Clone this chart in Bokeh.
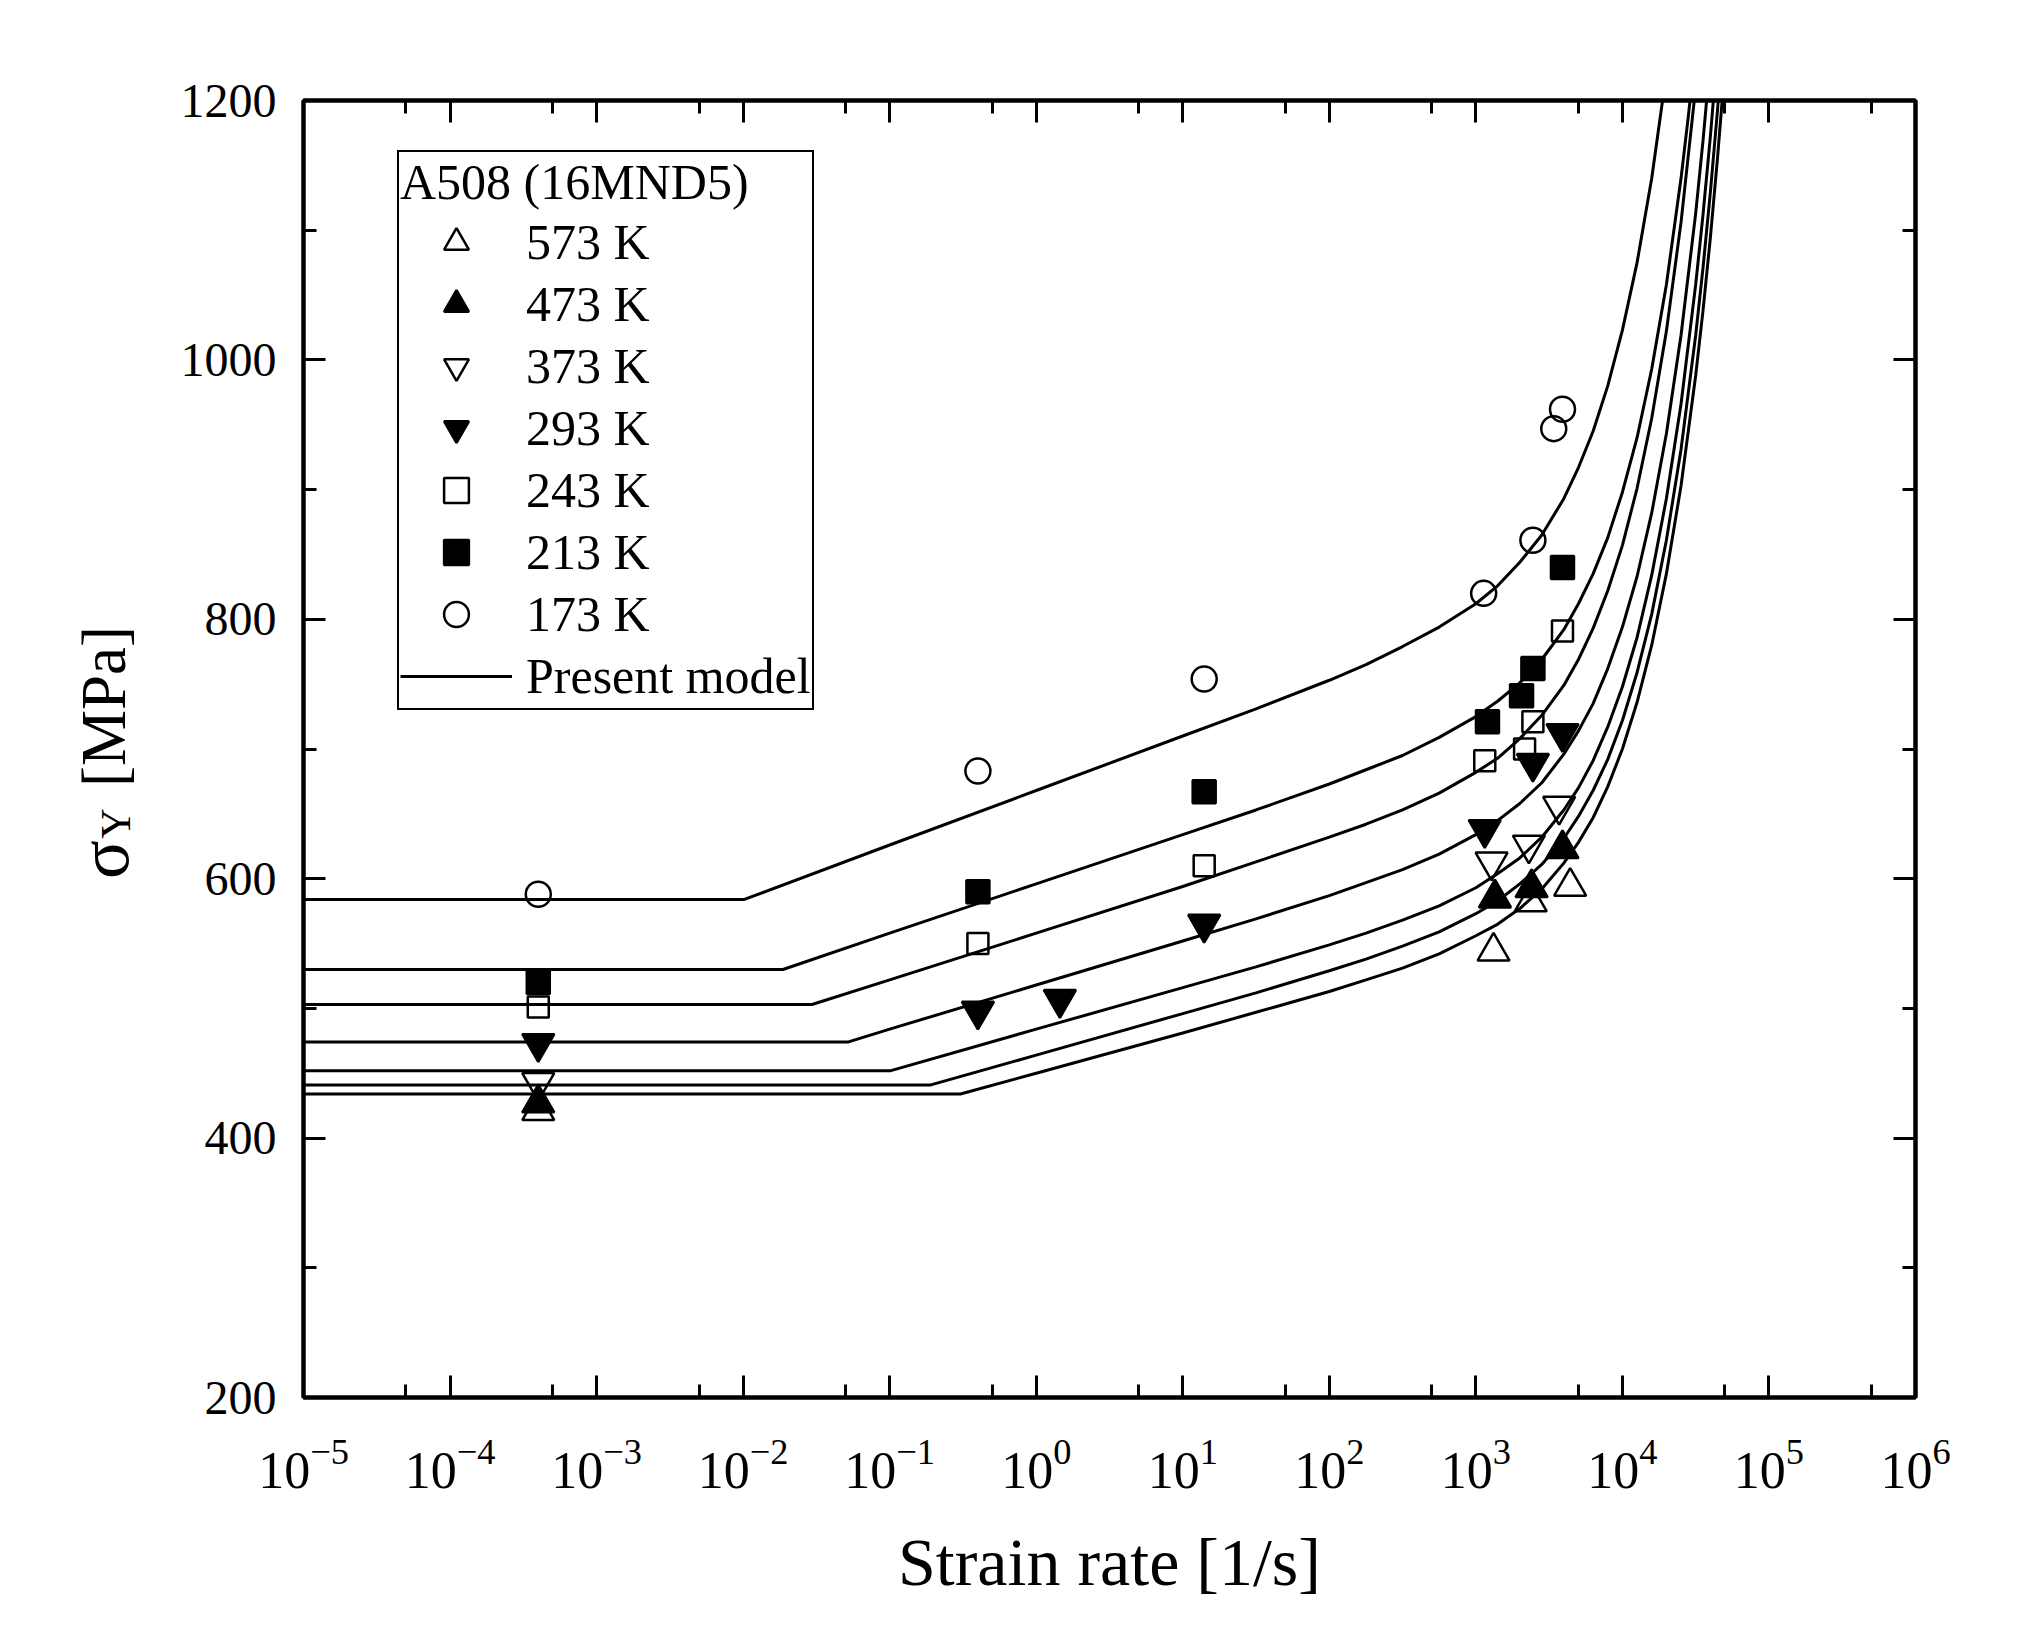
import math
from bokeh.plotting import figure
from bokeh.models import (Range1d, FixedTicker, LogAxis, LinearAxis, Label,
                          Legend, LegendItem)
from bokeh.embed import file_html
from bokeh.resources import INLINE

FONT = "Liberation Serif"

# ---------------- axis ticks ----------------
x_ticks = [1e-5, 1e-4, 1e-3, 1e-2, 1e-1, 1e0, 1e1, 1e2, 1e3, 1e4, 1e5, 1e6]
x_minor_ticks = [5e-5, 5e-4, 5e-3, 5e-2, 5e-1, 5e0, 5e1, 5e2, 5e3, 5e4, 5e5]
y_ticks = [200, 400, 600, 800, 1000, 1200]
y_minor_ticks = [300, 500, 700, 900, 1100]
x_title = "Strain rate [1/s]"
y_title_parts = ["σ", "Y", "[MPa]"]

# ---------------- experimental data ----------------
legend_title = "A508 (16MND5)"
temps = ["573 K", "473 K", "373 K", "293 K", "243 K", "213 K", "173 K"]

exp_rate_573 = [4e-4, 1320, 2370, 4400]
exp_stress_573 = [421, 544, 582, 594]
exp_rate_473 = [4e-4, 1350, 2400, 3900]
exp_stress_473 = [427, 585, 593, 623]
exp_rate_373 = [4e-4, 1280, 2300, 3700]
exp_stress_373 = [443, 613, 626, 656]
exp_rate_293 = [4e-4, 0.4, 1.45, 14, 1150, 2450, 3900]
exp_stress_293 = [473, 498, 507, 565, 638, 689, 712]
exp_rate_243 = [4e-4, 0.4, 14, 1150, 2150, 2450, 3900]
exp_stress_243 = [501, 550, 610, 691, 700, 721, 791]
exp_rate_213 = [4e-4, 0.4, 14, 1200, 2050, 2450, 3900]
exp_stress_213 = [520, 590, 667, 721, 741, 762, 840]
exp_rate_173 = [4e-4, 0.4, 14, 1130, 2450, 3400, 3900]
exp_stress_173 = [588, 683, 754, 820, 861, 947, 962]

# ---------------- model curves ----------------
model_label = "Present model"
model_rate_173 = [1e-5, 0.0102, 0.1, 1, 10, 31.6, 100, 178, 316, 562, 1000, 1413, 1995,
                  2818, 3981, 5012, 6310, 7943, 10000, 12589, 15849, 19953]
model_stress_173 = [584, 584, 626, 668, 710, 731, 753, 765, 779, 794, 812, 826, 844,
                    865, 893, 917, 945, 980, 1023, 1075, 1140, 1221]
model_rate_213 = [1e-5, 0.0187, 0.1, 1, 10, 31.6, 100, 178, 316, 562, 1000, 1413, 1995,
                  2818, 3981, 5012, 6310, 7943, 10000, 12589, 15849, 19953, 25119,
                  28184, 31623]
model_stress_213 = [530, 530, 558, 596, 634, 653, 673, 684, 695, 709, 725, 737, 751,
                    769, 792, 812, 835, 863, 898, 940, 993, 1058, 1140, 1188, 1241]
model_rate_243 = [1e-5, 0.0295, 0.1, 1, 10, 31.6, 100, 178, 316, 562, 1000, 1413, 1995,
                  2818, 3981, 5012, 6310, 7943, 10000, 12589, 15849, 19953, 25119, 31623]
model_stress_243 = [503, 503, 522, 558, 594, 613, 632, 642, 653, 666, 682, 693, 708,
                    726, 749, 769, 793, 822, 857, 901, 955, 1022, 1106, 1210]
model_rate_293 = [1e-5, 0.0517, 0.1, 1, 10, 31.6, 100, 178, 316, 562, 1000, 1413, 1995,
                  2818, 3981, 5012, 6310, 7943, 10000, 12589, 15849, 19953, 25119,
                  31623, 35481, 39811]
model_stress_293 = [474, 474, 484, 518, 552, 569, 587, 597, 607, 619, 634, 645, 658,
                    674, 696, 714, 735, 762, 794, 833, 882, 943, 1019, 1113, 1169, 1232]
model_rate_373 = [1e-5, 0.102, 1, 10, 31.6, 100, 178, 316, 562, 1000, 1413, 1995,
                  2818, 3981, 5012, 6310, 7943, 10000, 12589, 15849, 19953, 25119,
                  31623, 35481, 39811, 44668]
model_stress_373 = [452, 452, 484, 516, 532, 549, 558, 568, 579, 593, 604, 616,
                    632, 653, 670, 691, 717, 748, 786, 834, 893, 966, 1058, 1112, 1172, 1240]
model_rate_473 = [1e-5, 0.191, 1, 10, 31.6, 100, 178, 316, 562, 1000, 1413, 1995,
                  2818, 3981, 5012, 6310, 7943, 10000, 12589, 15849, 19953, 25119,
                  31623, 35481, 39811, 44668, 50119]
model_stress_473 = [441, 441, 464, 496, 512, 529, 538, 548, 559, 573, 583, 596,
                    611, 631, 648, 668, 692, 722, 759, 804, 861, 931, 1019, 1071, 1129,
                    1194, 1266]
model_rate_573 = [1e-5, 0.304, 1, 10, 31.6, 100, 178, 316, 562, 1000, 1413, 1995,
                  2818, 3981, 5012, 6310, 7943, 10000, 12589, 15849, 19953, 25119,
                  31623, 35481, 39811, 44668, 50119]
model_stress_573 = [434, 434, 450, 481, 497, 513, 522, 531, 542, 556, 565, 577,
                    592, 612, 628, 647, 671, 700, 736, 780, 835, 903, 988, 1038, 1094,
                    1157, 1227]

exp_series = [
    (exp_rate_573, exp_stress_573, "triangle", False, 32),
    (exp_rate_473, exp_stress_473, "triangle", True, 32),
    (exp_rate_373, exp_stress_373, "inverted_triangle", False, 32),
    (exp_rate_293, exp_stress_293, "inverted_triangle", True, 32),
    (exp_rate_243, exp_stress_243, "square", False, 21),
    (exp_rate_213, exp_stress_213, "square", True, 23),
    (exp_rate_173, exp_stress_173, "circle", False, 25),
]
model_series = [
    (model_rate_173, model_stress_173), (model_rate_213, model_stress_213),
    (model_rate_243, model_stress_243), (model_rate_293, model_stress_293),
    (model_rate_373, model_stress_373), (model_rate_473, model_stress_473),
    (model_rate_573, model_stress_573),
]

# ---------------- figure ----------------
W, H = 2016, 1636
p = figure(width=W, height=H, x_axis_type="log",
           x_range=Range1d(1e-5, 1e6), y_range=Range1d(200, 1200),
           output_backend="svg", toolbar_location=None,
           min_border_left=303, min_border_right=101,
           min_border_top=100, min_border_bottom=239)
p.xgrid.visible = False
p.ygrid.visible = False
p.outline_line_color = "black"
p.outline_line_width = 4
p.background_fill_color = "white"
p.border_fill_color = "white"


def style_axis(ax, show_labels, size_px):
    ax.axis_line_width = 4
    ax.axis_line_color = "black"
    ax.major_tick_in = 22
    ax.major_tick_out = 0
    ax.minor_tick_in = 13
    ax.minor_tick_out = 0
    ax.major_tick_line_width = 3
    ax.minor_tick_line_width = 3
    ax.major_tick_line_color = "black"
    ax.minor_tick_line_color = "black"
    ax.major_label_text_font = FONT
    ax.major_label_text_font_size = size_px
    ax.major_label_text_color = "black" if show_labels else None


p.xaxis.ticker = FixedTicker(ticks=x_ticks, minor_ticks=x_minor_ticks)
p.yaxis.ticker = FixedTicker(ticks=y_ticks, minor_ticks=y_minor_ticks)
style_axis(p.xaxis[0], True, "52px")
style_axis(p.yaxis[0], True, "48px")
p.xaxis.major_label_standoff = 42
p.yaxis.major_label_standoff = 27

p.xaxis.axis_label = x_title
p.xaxis.axis_label_text_font = FONT
p.xaxis.axis_label_text_font_size = "68px"
p.xaxis.axis_label_text_font_style = "normal"
p.xaxis.axis_label_text_color = "black"
p.xaxis.axis_label_standoff = 33

top_ax = LogAxis(ticker=FixedTicker(ticks=x_ticks, minor_ticks=x_minor_ticks))
style_axis(top_ax, False, "1px")
top_ax.major_label_standoff = 0
p.add_layout(top_ax, "above")
right_ax = LinearAxis(ticker=FixedTicker(ticks=y_ticks, minor_ticks=y_minor_ticks))
style_axis(right_ax, False, "1px")
right_ax.major_label_standoff = 0
p.add_layout(right_ax, "right")

# model lines
line_renderers = []
for rx, sy in model_series:
    r = p.line(rx, sy, line_color="black", line_width=3)
    line_renderers.append(r)

# experimental markers
marker_renderers = []
for (rx, sy, mk, filled, sz) in exp_series:
    r = p.scatter(rx, sy, marker=mk, size=sz, line_color="black", line_width=2.5,
                  fill_color="black" if filled else None)
    marker_renderers.append(r)

items = [LegendItem(label=t, renderers=[r]) for t, r in zip(temps, marker_renderers)]
items.append(LegendItem(label=model_label, renderers=[line_renderers[0]]))
legend = Legend(items=items, location=(94, 687), margin=0,
                title=legend_title, title_text_font=FONT, title_text_font_size="50px",
                title_text_font_style="normal", title_text_color="black",
                title_standoff=0,
                label_text_font=FONT, label_text_font_size="50px",
                label_text_color="black",
                glyph_width=112, glyph_height=62, label_height=62,
                label_standoff=14, spacing=0, padding=1,
                border_line_color="black", border_line_width=2.5,
                border_line_alpha=1.0,
                background_fill_color="white", background_fill_alpha=1.0)
p.add_layout(legend)

# y-axis title: sigma with subscript Y, then [MPa]; placed in side panels
# (so they are not clipped to the frame), positioned in canvas pixels
p.add_layout(Label(x=103, y=706, x_units="canvas", y_units="canvas",
                   text=y_title_parts[2], angle=math.pi / 2, text_align="center",
                   text_baseline="alphabetic", text_font=FONT,
                   text_font_size="63px", text_color="black"), "left")
p.add_layout(Label(x=103, y=859, x_units="canvas", y_units="canvas",
                   text=y_title_parts[0], angle=math.pi / 2, text_align="center",
                   text_baseline="alphabetic", text_font=FONT,
                   text_font_size="72px", text_color="black"), "above")
p.add_layout(Label(x=115, y=823, x_units="canvas", y_units="canvas",
                   text=y_title_parts[1], angle=math.pi / 2, text_align="center",
                   text_baseline="alphabetic", text_font=FONT,
                   text_font_size="42px", text_color="black"), "right")

open("out.html", "w").write(file_html(p, INLINE))
